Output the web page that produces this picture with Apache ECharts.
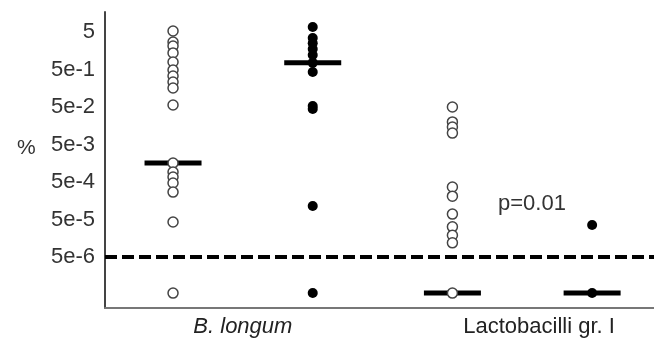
<!DOCTYPE html>
<html>
<head>
<meta charset="utf-8">
<script src="https://cdn.jsdelivr.net/npm/echarts@6/dist/echarts.min.js"></script>
<style>html,body{margin:0;padding:0;background:#fff}#c{width:654px;height:340px}</style>
</head>
<body>
<div id="c"></div>
<script>
// Groups (x positions 1..4) and category labels
var categories = ['B. longum', 'Lactobacilli gr. I'];
var categoryPos = [1.5, 3.62];
// y tick labels (%)
var yTickVals = [5e-6, 5e-5, 5e-4, 5e-3, 5e-2, 5e-1, 5];
var yTickLabels = ['5e-6', '5e-5', '5e-4', '5e-3', '5e-2', '5e-1', '5'];
// detection limit
var detectionLimit = 5e-6;
// values (%) per group
var group1Open = [5.3, 2.7, 2.1, 1.38, 0.79, 0.485, 0.336, 0.23, 0.16, 0.0565, 1.6e-3, 9.2e-4, 6.8e-4, 4.7e-4, 2.7e-4, 4.3e-5, 5.5e-7];
var group2Filled = [6.8, 3.46, 2.5, 1.76, 1.22, 0.75, 0.43, 0.053, 0.044, 1.15e-4, 5.5e-7];
var group3Open = [0.05, 0.02, 0.0147, 0.0101, 3.7e-4, 2.1e-4, 7e-5, 3.2e-5, 1.9e-5, 1.2e-5, 5.5e-7];
var group4Filled = [3.6e-5, 5.5e-7];
var medians = [1.6e-3, 0.75, 5.5e-7, 5.5e-7];
var pText = 'p=0.01';

var xMin = 0.513, xMax = 4.443;
function pts(x, arr){ return arr.map(function(v){ return [x, v]; }); }

var chart = echarts.init(document.getElementById('c'), null, {renderer:'canvas'});
var font = '"Liberation Sans", Arial, sans-serif';
var openStyle = {color:'#ffffff', borderColor:'#444', borderWidth:1.5, opacity:1};
var fillStyle = {color:'#000000', opacity:1};
chart.setOption({
  animation:false,
  grid:{left:105, right:0, top:12, bottom:32},
  xAxis:{
    type:'value', min:xMin, max:xMax,
    splitLine:{show:false},
    axisTick:{show:false},
    axisLine:{show:true, onZero:false, lineStyle:{color:'#777', width:2}},
    axisLabel:{
      customValues: categoryPos,
      margin:8,
      fontSize:22, fontFamily:font, color:'#222',
      formatter:function(v){
        var i = categoryPos.indexOf(v);
        if (i === 0) return '{it|' + categories[0] + '}';
        return categories[i] || '';
      },
      rich:{it:{fontStyle:'italic', fontSize:22, fontFamily:font, color:'#222'}}
    }
  },
  yAxis:{
    type:'log', logBase:10, min:2.2e-7, max:17,
    splitLine:{show:false},
    axisTick:{show:false},
    axisLine:{show:true, lineStyle:{color:'#444', width:2}},
    axisLabel:{
      customValues: yTickVals,
      margin:10,
      fontSize:22, fontFamily:font, color:'#333',
      formatter:function(v){
        var best = 0, bd = Infinity;
        for (var i=0;i<yTickVals.length;i++){
          var d = Math.abs(Math.log10(v) - Math.log10(yTickVals[i]));
          if (d < bd){ bd = d; best = i; }
        }
        return yTickLabels[best];
      }
    }
  },
  graphic:[
    {type:'text', left:17, top:138, style:{text:'%', font:'21px "Liberation Sans", Arial, sans-serif', fill:'#333'}},
    {type:'text', left:498, top:193, style:{text:pText, font:'22px "Liberation Sans", Arial, sans-serif', fill:'#333'}}
  ],
  series:[
    {type:'line', name:'limit', showSymbol:false, silent:true, z:0,
     lineStyle:{type:[12,5], color:'#000', width:4},
     data:[[xMin, detectionLimit],[xMax, detectionLimit]]},
    {type:'scatter', name:'median', symbol:'rect', symbolSize:[57,5], z:1,
     itemStyle:{color:'#000', opacity:1}, silent:true,
     data: medians.map(function(v,i){ return [i+1, v]; })},
    {type:'scatter', symbol:'circle', symbolSize:10, z:3, itemStyle:openStyle, data:pts(1, group1Open)},
    {type:'scatter', symbol:'circle', symbolSize:10, z:3, itemStyle:fillStyle, data:pts(2, group2Filled)},
    {type:'scatter', symbol:'circle', symbolSize:10, z:3, itemStyle:openStyle, data:pts(3, group3Open)},
    {type:'scatter', symbol:'circle', symbolSize:10, z:3, itemStyle:fillStyle, data:pts(4, group4Filled)}
  ]
});
</script>
</body>
</html>
